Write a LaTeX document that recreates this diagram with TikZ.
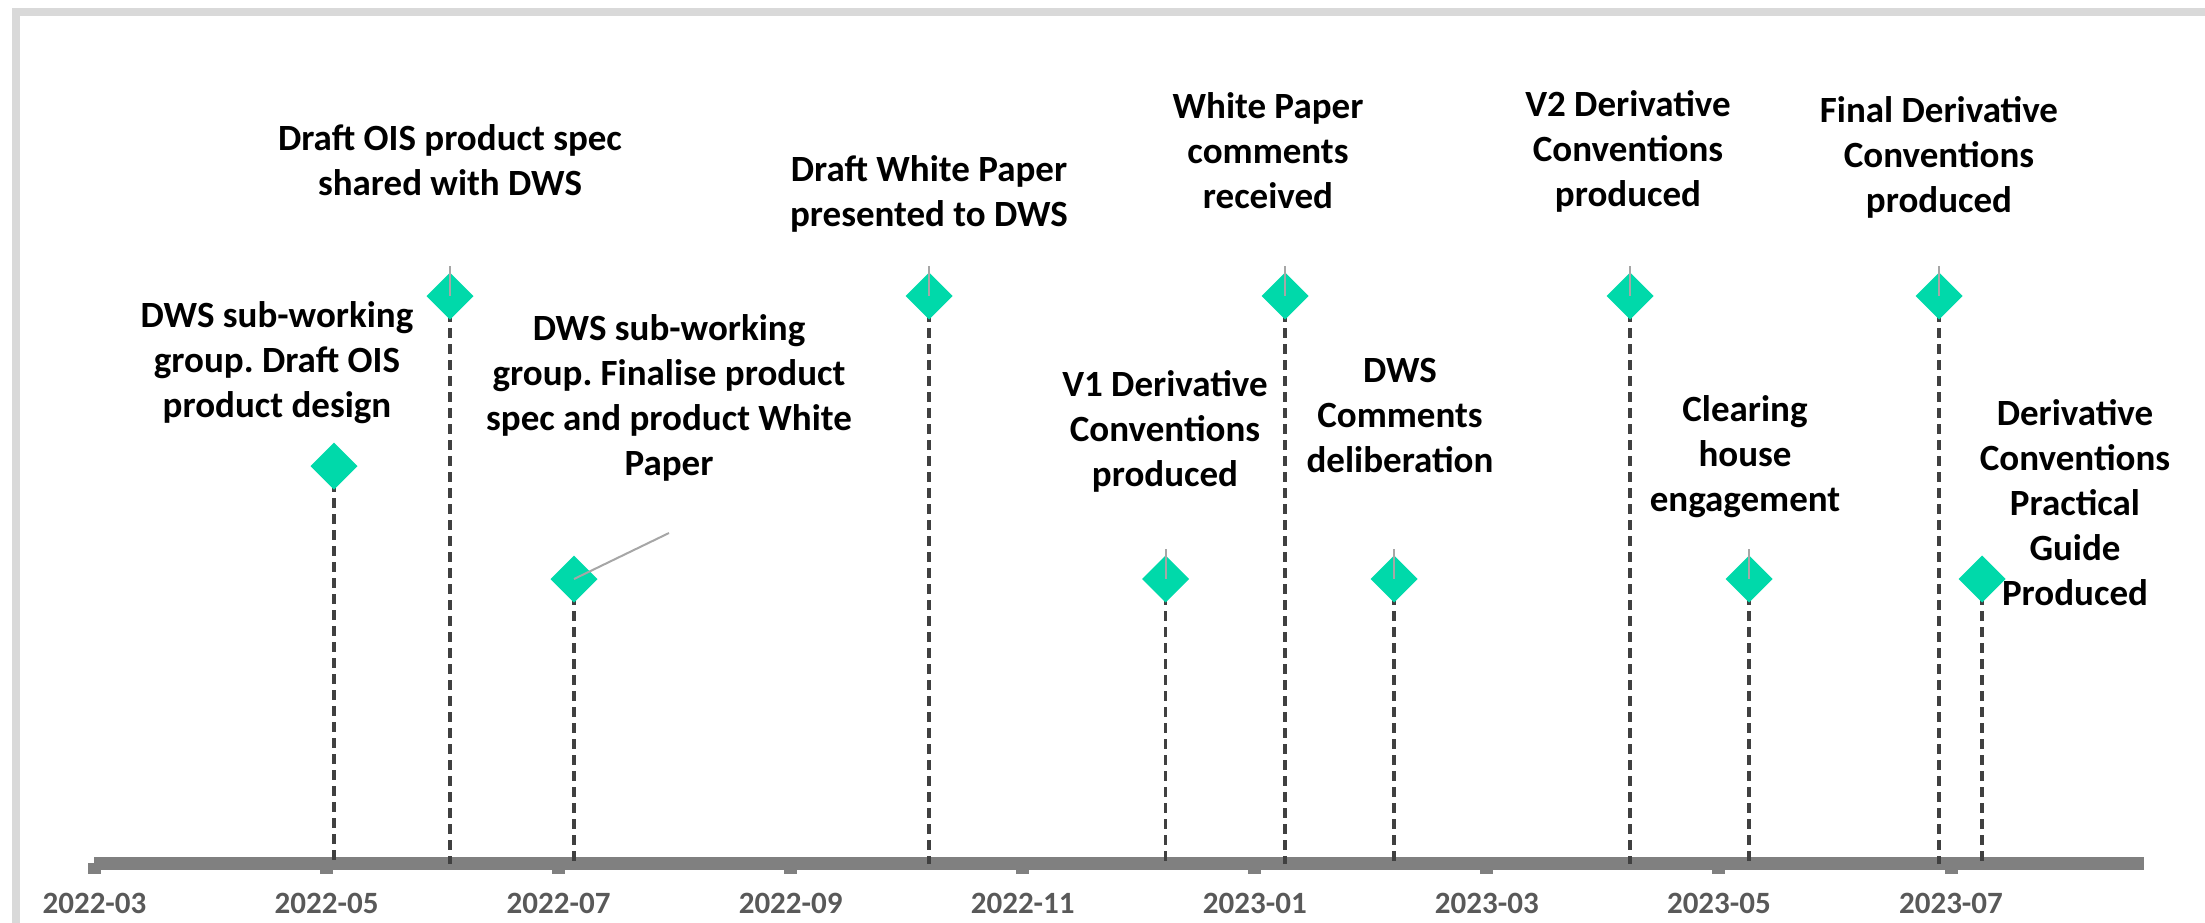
\documentclass[tikz,border=0pt]{standalone}
\usepackage{fontspec}
\setmainfont{Carlito}
\usetikzlibrary{shapes.geometric}
\definecolor{framegray}{HTML}{D9D9D9}
\definecolor{axisgray}{HTML}{808080}
\definecolor{ticklabel}{HTML}{595959}
\definecolor{dashgray}{HTML}{404040}
\definecolor{leadergray}{HTML}{A6A6A6}
\definecolor{milestone}{HTML}{00D9AA}
\frenchspacing
\begin{document}
\begin{tikzpicture}[x=0.5pt,y=-0.5pt,
  event/.style={font=\fontsize{18.5}{22.5}\selectfont\bfseries, align=center, inner sep=0pt, text=black},
  datelabel/.style={font=\fontsize{15.5}{18}\selectfont\bfseries, text=ticklabel, inner sep=0pt, anchor=base},
  marker/.style={diamond, fill=milestone, minimum width=23.5pt, minimum height=23.5pt, inner sep=0pt, outer sep=0pt},
  dropline/.style={draw=dashgray, line width=1.6pt, dash pattern=on 5pt off 3pt},
  leader/.style={draw=leadergray, line width=1pt},
  axisline/.style={draw=axisgray, line width=6.5pt},
  tickmark/.style={fill=axisgray},
  frameline/.style={draw=framegray, line width=4pt},
]
\useasboundingbox (0,0) rectangle (2205,922);

% chart frame (runs off the right and bottom edges)
\coordinate (frameB) at (16,960);
\coordinate (frameC) at (16,12);
\coordinate (frameR) at (2240,12);
\draw[frameline] (frameB) -- (frameC) -- (frameR);

% time axis
\coordinate (axisL) at (94,863.5);
\coordinate (axisR) at (2144,863.5);
\draw[axisline] (axisL) -- (axisR);

% month ticks and their labels
\foreach \k/\lab in {0/2022-03,1/2022-05,2/2022-07,3/2022-09,4/2022-11,5/2023-01,6/2023-03,7/2023-05,8/2023-07}{
  \pgfmathsetmacro{\tx}{94.5+232.06*\k}
  \fill[tickmark] (\tx-6.5,863) rectangle (\tx+6.5,874);
  \node[datelabel] (tick\k) at (\tx,913) {\lab};
}

% milestone positions
\coordinate (c1) at (334,466);
\coordinate (c2) at (450,296);
\coordinate (c3) at (574,579);
\coordinate (c4) at (929,296);
\coordinate (c5) at (1165.5,579);
\coordinate (c6) at (1285,296);
\coordinate (c7) at (1394,579);
\coordinate (c8) at (1630,296);
\coordinate (c9) at (1749,579);
\coordinate (c10) at (1939,296);
\coordinate (c11) at (1982,579);

% dashed drop lines down to the axis
\foreach \i in {1,...,11}{
  \draw[dropline] (c\i) -- (c\i |- axisL);
}

% milestone markers
\foreach \i in {1,...,11}{
  \node[marker] (m\i) at (c\i) {};
}

% leader lines from the labels
\coordinate (l2) at (450,266);
\coordinate (l3) at (669,533);
\coordinate (l4) at (929,266);
\coordinate (l5) at (1165.5,549);
\coordinate (l6) at (1285,266);
\coordinate (l7) at (1394,549);
\coordinate (l8) at (1630,266);
\coordinate (l9) at (1749,549);
\coordinate (l10) at (1939,266);
\foreach \i in {2,...,10}{
  \draw[leader] (l\i) -- (m\i.center);
}

% milestone labels
\node[event] (t1) at (277,363) {DWS sub-working\\group. Draft OIS\\product design};
\node[event] (t2) at (450,160) {Draft OIS product spec\\shared with DWS};
\node[event] (t3) at (669,398) {DWS sub-working\\group. Finalise product\\spec and product White\\Paper};
\node[event] (t4) at (929,194) {Draft White Paper\\presented to DWS};
\node[event] (t5) at (1165,431) {V1 Derivative\\Conventions\\produced};
\node[event] (t6) at (1268,151) {White Paper\\comments\\received};
\node[event] (t7) at (1400,415) {DWS\\Comments\\deliberation};
\node[event] (t8) at (1628,151) {V2 Derivative\\Conventions\\produced};
\node[event] (t9) at (1745,457) {Clearing\\house\\engagement};
\node[event] (t10) at (1939,157) {Final Derivative\\Conventions\\produced};
\node[event] (t11) at (2075,503) {Derivative\\Conventions\\Practical\\Guide\\Produced};
\end{tikzpicture}
\end{document}
